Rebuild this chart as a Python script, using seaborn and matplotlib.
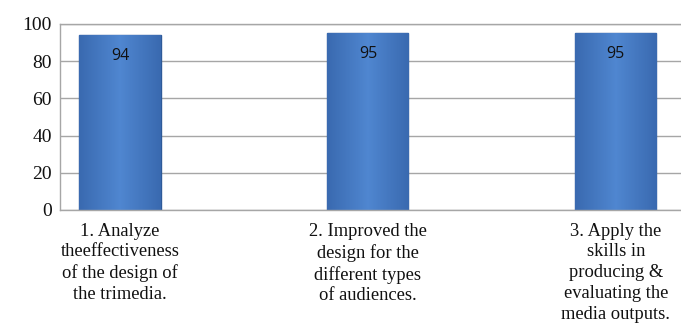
import matplotlib
matplotlib.use("Agg")
import matplotlib.pyplot as plt
import seaborn as sns
import numpy as np
import pandas as pd

categories = [
    "1. Analyze\ntheeffectiveness\nof the design of\nthe trimedia.",
    "2. Improved the\ndesign for the\ndifferent types\nof audiences.",
    "3. Apply the\nskills in\nproducing &\nevaluating the\nmedia outputs.",
]
values = [94, 95, 95]
yticks = [0, 20, 40, 60, 80, 100]

df = pd.DataFrame({"cat": categories, "val": values})

sns.set_theme(style="white")
plt.rcParams["font.family"] = ["Liberation Serif", "DejaVu Serif"]

fig = plt.figure(figsize=(6.81, 3.29), dpi=100)
ax = fig.add_axes([60/681, 1-210/329, 1-60/681, (210-24)/329])

sns.barplot(data=df, x="cat", y="val", ax=ax, color="#4A7EC6", width=0.327,
            edgecolor="#2E5A99", linewidth=1.0, saturation=1)

# gradient shading on bars
for p in ax.patches:
    x0, y0 = p.get_x(), p.get_y()
    w, h = p.get_width(), p.get_height()
    grad = np.abs(np.linspace(-1, 1, 64))[None, :]
    im = ax.imshow(grad, extent=[x0, x0 + w, y0, y0 + h], aspect="auto",
                   cmap=matplotlib.colors.LinearSegmentedColormap.from_list(
                       "b", ["#4F86D0", "#3A6AB0"]),
                   zorder=p.get_zorder() + 0.1)
    im.set_clip_path(p)

for i, v in enumerate(values):
    ax.text(i, v - 7, str(v), ha="center", va="top", fontsize=11.5,
            family=["Open Sans", "DejaVu Sans"], color="#111111", zorder=5)

ax.set_ylim(0, 100)
ax.set_xlim(-0.242, 2.263)
ax.set_yticks(yticks)
ax.set_yticklabels([str(t) for t in yticks], fontsize=14, color="#111111")
ax.set_xticklabels(categories, fontsize=13.3, color="#111111", linespacing=1.3)
ax.tick_params(axis="x", length=0, pad=9)
ax.tick_params(axis="y", length=0, pad=6)
ax.set_xlabel("")
ax.set_ylabel("")
ax.yaxis.grid(True, color="#a6a6a6", linewidth=1.0)
ax.set_axisbelow(True)
for s in ["left", "bottom", "top"]:
    ax.spines[s].set_visible(True)
    ax.spines[s].set_color("#a6a6a6")
    ax.spines[s].set_linewidth(1.0)
ax.spines["right"].set_visible(False)

fig.savefig("out.png", dpi=100)
